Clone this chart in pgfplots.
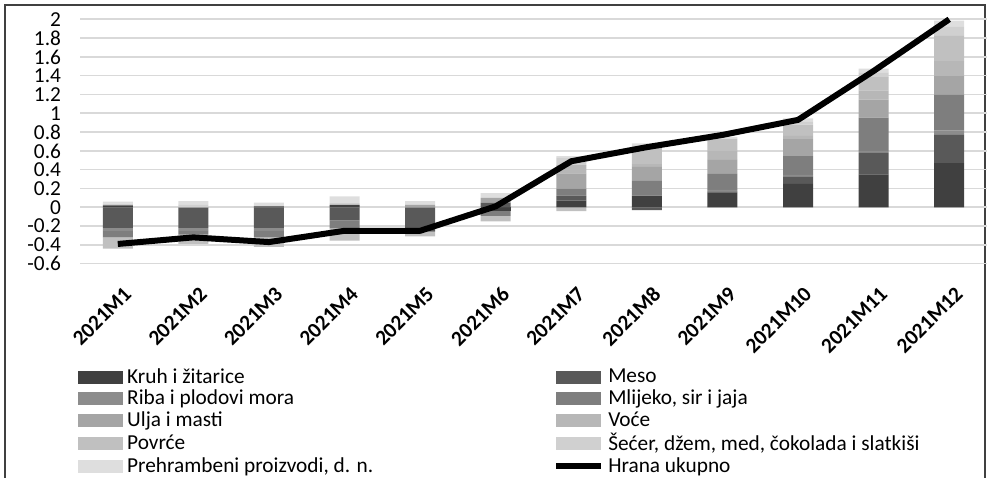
\documentclass[border=0pt]{standalone}
\usepackage{pgfplots}
\pgfplotsset{compat=1.18}
\usepackage{pgfplotstable}
\usepackage{fontspec}
\setmainfont{Carlito}

\definecolor{cK}{HTML}{404040}
\definecolor{cMe}{HTML}{595959}
\definecolor{cR}{HTML}{8C8C8C}
\definecolor{cMl}{HTML}{7E7E7E}
\definecolor{cU}{HTML}{A5A5A5}
\definecolor{cV}{HTML}{B7B7B7}
\definecolor{cP}{HTML}{C0C0C0}
\definecolor{cS}{HTML}{D0D0D0}
\definecolor{cPr}{HTML}{DEDEDE}
\definecolor{gridc}{HTML}{D9D9D9}

% positive contributions
\pgfplotstableread{
x K    Me   R     Ml    U     V     P     S     Pr
0 0.02 0    0     0     0     0     0     0.02  0.02
1 0    0    0     0     0     0     0     0.025 0.04
2 0.01 0    0     0     0     0     0     0.01  0.03
3 0.025 0   0     0     0     0     0     0.02  0.07
4 0    0    0     0     0.025 0     0     0     0.04
5 0    0.05 0     0     0.05  0     0     0     0.05
6 0.07 0.05 0.01  0.07  0.16  0.09  0     0.08  0.015
7 0.12 0    0.01  0.15  0.15  0.03  0.18  0.02  0.02
8 0.16 0.01 0.015 0.17  0.15  0.1   0.125 0     0.02
9 0.25 0.08 0.015 0.2   0.18  0.035 0.12  0.03  0.035
10 0.35 0.23 0.02 0.355 0.19  0.1   0.14  0.05  0.04
11 0.47 0.3 0.045 0.38  0.2   0.16  0.27  0.1   0.06
}\pos

% negative contributions
\pgfplotstableread{
x K     Me    R     Ml     U  V  P     S  Pr
0 0     -0.22 -0.03 -0.07  0  0  -0.12 0  0
1 0     -0.22 -0.03 -0.04  0  0  -0.10 0  0
2 0     -0.22 -0.03 -0.07  0  0  -0.10 0  0
3 0     -0.14 0     -0.085 0  0  -0.13 0  0
4 0     -0.26 0     0      0  0  -0.05 0  0
5 -0.04 0     0     -0.05  0  0  -0.06 0  0
6 0     0     0     0      0  0  -0.04 0  0
7 0     -0.03 0     0      0  0  0     0  0
8 0     0     0     0      0  0  0     0  0
9 0     0     0     0      0  0  0     0  0
10 0    0     0     0      0  0  0     0  0
11 0    0     0     0      0  0  0     0  0
}\neg

\pgfplotstableread{
x y
0 -0.39
1 -0.32
2 -0.37
3 -0.25
4 -0.25
5 0.01
6 0.49
7 0.64
8 0.77
9 0.93
10 1.45
11 2.0
}\total

\pgfplotsset{
  base/.style={
    at={(40bp,107.15bp)}, anchor=south west,
    scale only axis, width=453.5bp, height=122.2bp,
    xmin=-0.5, xmax=11.5, ymin=-0.6, ymax=2,
    axis line style={draw=none}, major tick length=0pt,
    xtick={0,...,11}, ytick={-0.6,-0.4,-0.2,0,0.2,0.4,0.6,0.8,1,1.2,1.4,1.6,1.8,2},
    clip=false,
  },
  bars/.style={base, ybar stacked, bar width=15bp},
  lbl/.style={font=\fontsize{10.7}{12}\selectfont},
  swatch/.style={legend image code/.code={\fill[##1] (0bp,-3.3bp) rectangle (22.5bp,3.3bp);}},
  linelegend/.style={legend image code/.code={\draw[##1] (0bp,0bp) -- (22.5bp,0bp);}},
}

\begin{document}
\begin{tikzpicture}
\useasboundingbox (0,0) rectangle (493.5bp,239bp);
\draw[black!75, line width=0.6bp] (2.5bp,0) -- (2.5bp,236.5bp) -- (492.5bp,236.5bp) -- (492.5bp,0);

% negative stack, with grid and tick labels
\begin{axis}[bars,
  ymajorgrids, grid style={gridc, line width=0.8bp},
  xticklabels={2021M1,2021M2,2021M3,2021M4,2021M5,2021M6,2021M7,2021M8,2021M9,2021M10,2021M11,2021M12},
  yticklabels={-0.6,-0.4,-0.2,0,0.2,0.4,0.6,0.8,1,1.2,1.4,1.6,1.8,2},
  yticklabel style={lbl, xshift=-6bp},
  xticklabel style={lbl, font=\fontsize{10.7}{12}\selectfont\bfseries, rotate=45, anchor=east, xshift=-2.5bp, yshift=-13bp},
]
\addplot[fill=cK, draw=none] table[y=K] {\neg};
\addplot[fill=cMe, draw=none] table[y=Me] {\neg};
\addplot[fill=cR, draw=none] table[y=R] {\neg};
\addplot[fill=cMl, draw=none] table[y=Ml] {\neg};
\addplot[fill=cU, draw=none] table[y=U] {\neg};
\addplot[fill=cV, draw=none] table[y=V] {\neg};
\addplot[fill=cP, draw=none] table[y=P] {\neg};
\addplot[fill=cS, draw=none] table[y=S] {\neg};
\addplot[fill=cPr, draw=none] table[y=Pr] {\neg};
\end{axis}

% positive stack with the legend
\begin{axis}[bars, xticklabels={}, yticklabels={},
  legend columns=2, legend cell align=left,
  legend style={at={(-0.009,-0.394)}, anchor=north west, draw=none, fill=none,
    lbl, row sep=-2.1bp, /tikz/every even column/.append style={column sep=88bp}},
  swatch,
]
\addplot[fill=cK, draw=none] table[y=K] {\pos};
\addlegendentry{Kruh i žitarice}
\addplot[fill=cMe, draw=none] table[y=Me] {\pos};
\addlegendentry{Meso}
\addplot[fill=cR, draw=none] table[y=R] {\pos};
\addlegendentry{Riba i plodovi mora}
\addplot[fill=cMl, draw=none] table[y=Ml] {\pos};
\addlegendentry{Mlijeko, sir i jaja}
\addplot[fill=cU, draw=none] table[y=U] {\pos};
\addlegendentry{Ulja i masti}
\addplot[fill=cV, draw=none] table[y=V] {\pos};
\addlegendentry{Voće}
\addplot[fill=cP, draw=none] table[y=P] {\pos};
\addlegendentry{Povrće}
\addplot[fill=cS, draw=none] table[y=S] {\pos};
\addlegendentry{Šećer, džem, med, čokolada i slatkiši}
\addplot[fill=cPr, draw=none] table[y=Pr] {\pos};
\addlegendentry{Prehrambeni proizvodi, d. n.}
\addlegendimage{black, line width=3bp, linelegend}
\addlegendentry{Hrana ukupno}
\end{axis}

% total line
\begin{axis}[base, xticklabels={}, yticklabels={}]
\addplot[black, line width=3bp, line join=round] table[y=y] {\total};
\end{axis}
\end{tikzpicture}
\end{document}
